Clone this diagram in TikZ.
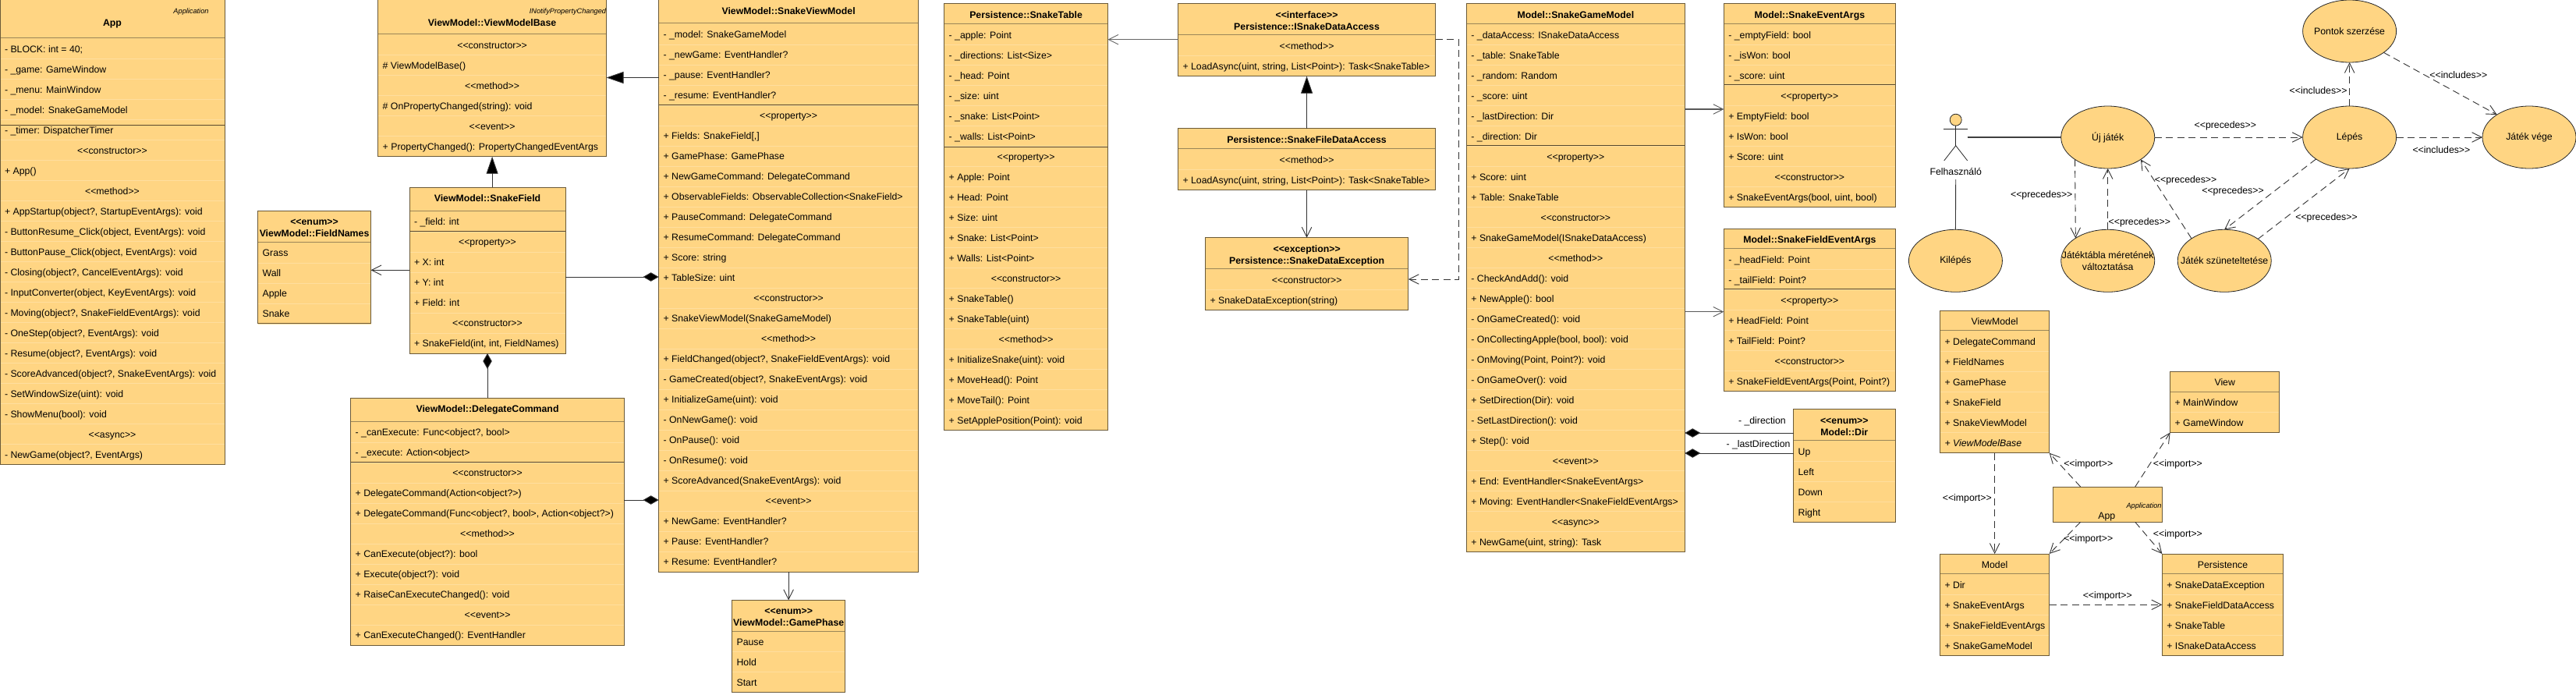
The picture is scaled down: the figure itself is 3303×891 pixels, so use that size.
\documentclass[tikz,border=0pt]{standalone}
\usepackage{fontspec}
\setmainfont{Liberation Sans}
\usetikzlibrary{arrows.meta,calc,shapes.geometric}
\definecolor{umlfill}{HTML}{FFD583}
\definecolor{rowline}{HTML}{FFDE9E}
\definecolor{edgecol}{HTML}{6B5A38}
\definecolor{headcol}{HTML}{9A8658}
\definecolor{sectcol}{HTML}{57482C}
\definecolor{conncol}{HTML}{333333}
\newcommand\mainf{\fontsize{12.3}{15}\selectfont}
\newcommand\smallf{\fontsize{9.2}{11}\selectfont\itshape}
\newcommand\st[1]{<\kern0pt<#1>\kern0pt>}
\newcounter{txtc}
\newcommand\puttext[4]{\stepcounter{txtc}\node[lbl,#1] (t\the\value{txtc}) at (#2,#3) {#4};}
\newcommand\ubox[5]{\node[umlbody,minimum width=#4pt,minimum height=#5pt] (#1) at (#2,#3) {};\xdef\bn{#1}\xdef\bx{#2}\xdef\bw{#4}}
\newcommand\hd[2]{\pgfmathsetmacro\hx{\bx+\bw/2}\pgfmathsetmacro\hy{#1+4.6}\puttext{anchor=base,font=\mainf\bfseries}{\hx}{\hy}{#2}}
\newcommand\plainhd[2]{\pgfmathsetmacro\hx{\bx+\bw/2}\pgfmathsetmacro\hy{#1+4.6}\puttext{anchor=base}{\hx}{\hy}{#2}}
\newcommand\hdline[1]{\draw[hline] (\bn.west |- 0,#1) -- (\bn.east |- 0,#1);}
\newcommand\sctline[1]{\draw[sline] (\bn.west |- 0,#1) -- (\bn.east |- 0,#1);}
\newcommand\startrows[1]{\xdef\cy{#1}}
\newcommand\rowsep{\pgfmathsetmacro\ly{\cy+13}\draw[rline] (\bn.west |- 0,\ly) -- (\bn.east |- 0,\ly);\pgfmathsetmacro\ny{\cy+26}\xdef\cy{\ny}}
\newcommand\rowL[1]{\pgfmathsetmacro\hx{\bx+6}\pgfmathsetmacro\hy{\cy+4.6}\puttext{anchor=base west}{\hx}{\hy}{#1}\rowsep}
\newcommand\rowC[1]{\pgfmathsetmacro\hx{\bx+\bw/2}\pgfmathsetmacro\hy{\cy+4.6}\puttext{anchor=base}{\hx}{\hy}{#1}\rowsep}
\newcommand\closebox{\draw[bline] (\bn.north west) rectangle (\bn.south east);}
\begin{document}
\begin{tikzpicture}[x=1pt,y=-1pt,
  umlbody/.style={fill=umlfill,draw=none,inner sep=0pt,outer sep=0pt,anchor=north west},
  lbl/.style={inner sep=0pt,outer sep=0pt,font=\mainf,text=black},
  stereo/.style={inner sep=0pt,outer sep=0pt,font=\smallf,text=black},
  hline/.style={draw=headcol,line width=1pt},
  sline/.style={draw=sectcol,line width=1pt},
  rline/.style={draw=rowline,line width=0.7pt},
  bline/.style={draw=edgecol,line width=1pt},
  uc/.style={ellipse,draw=black!85,line width=0.8pt,fill=umlfill,minimum width=120pt,minimum height=80pt,inner sep=0pt,outer sep=0pt},
  uctext/.style={lbl,align=center},
  conn/.style={draw=conncol,line width=0.9pt},
  openend/.style={conn,-{Straight Barb[length=12.5pt,width=12.5pt,line width=0.9pt]}},
  dep/.style={openend,dash pattern=on 9pt off 5.5pt},
  inherit/.style={conn,-{Triangle[length=22pt,width=15pt,fill=black]}},
  compos/.style={conn,{Diamond[length=20pt,width=11.5pt,fill=black]}-},
  actorline/.style={draw=black!85,line width=0.8pt}
]
\useasboundingbox (0,0) rectangle (3303,891);
\fill[white] (0,0) rectangle (3303,891);

% App
\ubox{app}{0}{0}{288}{595.7}
\startrows{62.7}
\rowL{- BLOCK: int = 40;}
\rowL{- \_game: GameWindow}
\rowL{- \_menu: MainWindow}
\rowL{- \_model: SnakeGameModel}
\rowL{- \_timer: DispatcherTimer}
\rowC{\st{constructor}}
\rowL{+ App()}
\rowC{\st{method}}
\rowL{+ AppStartup(object?, StartupEventArgs): void}
\rowL{- ButtonResume\_Click(object, EventArgs): void}
\rowL{- ButtonPause\_Click(object, EventArgs): void}
\rowL{- Closing(object?, CancelEventArgs): void}
\rowL{- InputConverter(object, KeyEventArgs): void}
\rowL{- Moving(object?, SnakeFieldEventArgs): void}
\rowL{- OneStep(object?, EventArgs): void}
\rowL{- Resume(object?, EventArgs): void}
\rowL{- ScoreAdvanced(object?, SnakeEventArgs): void}
\rowL{- SetWindowSize(uint): void}
\rowL{- ShowMenu(bool): void}
\rowC{\st{async}}
\rowL{- NewGame(object?, EventArgs)}
\hd{29}{App}
\puttext{stereo,anchor=base}{245}{18}{Application}
\hdline{49}\sctline{160.7}\closebox

% ViewModelBase
\ubox{vmb}{484.7}{0}{292.8}{200.7}
\startrows{57.7}
\rowC{\st{constructor}}
\rowL{\# ViewModelBase()}
\rowC{\st{method}}
\rowL{\# OnPropertyChanged(string): void}
\rowC{\st{event}}
\rowL{+ PropertyChanged(): PropertyChangedEventArgs}
\hd{29}{ViewModel::ViewModelBase}
\puttext{stereo,anchor=base east}{777}{18}{INotifyPropertyChanged}
\hdline{44}\closebox

% SnakeField
\ubox{field}{525}{240}{200}{213}
\startrows{284}
\rowL{- \_field: int}
\rowC{\st{property}}
\rowL{+ X: int}
\rowL{+ Y: int}
\rowL{+ Field: int}
\rowC{\st{constructor}}
\rowL{+ SnakeField(int, int, FieldNames)}
\hd{254}{ViewModel::SnakeField}
\hdline{270}\sctline{296}\closebox

% FieldNames
\ubox{fnames}{330.6}{270}{144.9}{144.7}
\startrows{324}
\rowL{Grass}
\rowL{Wall}
\rowL{Apple}
\rowL{Snake}
\hd{284}{\st{enum}}
\hd{298.7}{ViewModel::FieldNames}
\hdline{310}\closebox

% DelegateCommand
\ubox{dcmd}{449.7}{510}{350.7}{317}
\startrows{554}
\rowL{- \_canExecute: Func<object?, bool>}
\rowL{- \_execute: Action<object>}
\rowC{\st{constructor}}
\rowL{+ DelegateCommand(Action<object?>)}
\rowL{+ DelegateCommand(Func<object?, bool>, Action<object?>)}
\rowC{\st{method}}
\rowL{+ CanExecute(object?): bool}
\rowL{+ Execute(object?): void}
\rowL{+ RaiseCanExecuteChanged(): void}
\rowC{\st{event}}
\rowL{+ CanExecuteChanged(): EventHandler}
\hd{524}{ViewModel::DelegateCommand}
\hdline{540}\sctline{592}\closebox

% GamePhase
\ubox{phase}{938.6}{769.3}{145.2}{118}
\startrows{822.7}
\rowL{Pause}
\rowL{Hold}
\rowL{Start}
\hd{782.7}{\st{enum}}
\hd{798}{ViewModel::GamePhase}
\hdline{809.3}\closebox

% SnakeViewModel
\ubox{svm}{844.6}{0}{333}{733}
\startrows{44}
\rowL{- \_model: SnakeGameModel}
\rowL{- \_newGame: EventHandler?}
\rowL{- \_pause: EventHandler?}
\rowL{- \_resume: EventHandler?}
\rowC{\st{property}}
\rowL{+ Fields: SnakeField[,]}
\rowL{+ GamePhase: GamePhase}
\rowL{+ NewGameCommand: DelegateCommand}
\rowL{+ ObservableFields: ObservableCollection<SnakeField>}
\rowL{+ PauseCommand: DelegateCommand}
\rowL{+ ResumeCommand: DelegateCommand}
\rowL{+ Score: string}
\rowL{+ TableSize: uint}
\rowC{\st{constructor}}
\rowL{+ SnakeViewModel(SnakeGameModel)}
\rowC{\st{method}}
\rowL{+ FieldChanged(object?, SnakeFieldEventArgs): void}
\rowL{- GameCreated(object?, SnakeEventArgs): void}
\rowL{+ InitializeGame(uint): void}
\rowL{- OnNewGame(): void}
\rowL{- OnPause(): void}
\rowL{- OnResume(): void}
\rowL{+ ScoreAdvanced(SnakeEventArgs): void}
\rowC{\st{event}}
\rowL{+ NewGame: EventHandler?}
\rowL{+ Pause: EventHandler?}
\rowL{+ Resume: EventHandler?}
\hd{14}{ViewModel::SnakeViewModel}
\hdline{30}\sctline{134.3}\closebox

% SnakeTable
\ubox{table}{1210.7}{4.7}{209.8}{547}
\startrows{44.7}
\rowL{- \_apple: Point}
\rowL{- \_directions: List<Size>}
\rowL{- \_head: Point}
\rowL{- \_size: uint}
\rowL{- \_snake: List<Point>}
\rowL{- \_walls: List<Point>}
\rowC{\st{property}}
\rowL{+ Apple: Point}
\rowL{+ Head: Point}
\rowL{+ Size: uint}
\rowL{+ Snake: List<Point>}
\rowL{+ Walls: List<Point>}
\rowC{\st{constructor}}
\rowL{+ SnakeTable()}
\rowL{+ SnakeTable(uint)}
\rowC{\st{method}}
\rowL{+ InitializeSnake(uint): void}
\rowL{+ MoveHead(): Point}
\rowL{+ MoveTail(): Point}
\rowL{+ SetApplePosition(Point): void}
\hd{18.7}{Persistence::SnakeTable}
\hdline{30.3}\sctline{188.3}\closebox

% ISnakeDataAccess
\ubox{ida}{1510.5}{4.7}{330.1}{93}
\startrows{58.7}
\rowC{\st{method}}
\rowL{+ LoadAsync(uint, string, List<Point>): Task<SnakeTable>}
\hd{19}{\st{interface}}
\hd{33.7}{Persistence::ISnakeDataAccess}
\hdline{44.3}\closebox

% SnakeFileDataAccess
\ubox{sfda}{1510.5}{164.7}{330.1}{79}
\startrows{204.7}
\rowC{\st{method}}
\rowL{+ LoadAsync(uint, string, List<Point>): Task<SnakeTable>}
\hd{178.7}{Persistence::SnakeFileDataAccess}
\hdline{190.7}\closebox

% SnakeDataException
\ubox{sde}{1545.5}{304.7}{260.3}{93}
\startrows{358.7}
\rowC{\st{constructor}}
\rowL{+ SnakeDataException(string)}
\hd{318.7}{\st{exception}}
\hd{333.7}{Persistence::SnakeDataException}
\hdline{344.3}\closebox

% SnakeGameModel
\ubox{sgm}{1880.4}{4.7}{279.9}{703}
\startrows{44.7}
\rowL{- \_dataAccess: ISnakeDataAccess}
\rowL{- \_table: SnakeTable}
\rowL{- \_random: Random}
\rowL{- \_score: uint}
\rowL{- \_lastDirection: Dir}
\rowL{- \_direction: Dir}
\rowC{\st{property}}
\rowL{+ Score: uint}
\rowL{+ Table: SnakeTable}
\rowC{\st{constructor}}
\rowL{+ SnakeGameModel(ISnakeDataAccess)}
\rowC{\st{method}}
\rowL{- CheckAndAdd(): void}
\rowL{+ NewApple(): bool}
\rowL{- OnGameCreated(): void}
\rowL{- OnCollectingApple(bool, bool): void}
\rowL{- OnMoving(Point, Point?): void}
\rowL{- OnGameOver(): void}
\rowL{+ SetDirection(Dir): void}
\rowL{- SetLastDirection(): void}
\rowL{+ Step(): void}
\rowC{\st{event}}
\rowL{+ End: EventHandler<SnakeEventArgs>}
\rowL{+ Moving: EventHandler<SnakeFieldEventArgs>}
\rowC{\st{async}}
\rowL{+ NewGame(uint, string): Task}
\hd{18.7}{Model::SnakeGameModel}
\hdline{30.3}\sctline{186.7}\closebox

% SnakeEventArgs
\ubox{sea}{2210.3}{4.7}{220.1}{261}
\startrows{44.7}
\rowL{- \_emptyField: bool}
\rowL{- \_isWon: bool}
\rowL{- \_score: uint}
\rowC{\st{property}}
\rowL{+ EmptyField: bool}
\rowL{+ IsWon: bool}
\rowL{+ Score: uint}
\rowC{\st{constructor}}
\rowL{+ SnakeEventArgs(bool, uint, bool)}
\hd{18.7}{Model::SnakeEventArgs}
\hdline{30.3}\sctline{108.7}\closebox

% SnakeFieldEventArgs
\ubox{sfea}{2210.3}{293}{220.1}{208.7}
\startrows{332.7}
\rowL{- \_headField: Point}
\rowL{- \_tailField: Point?}
\rowC{\st{property}}
\rowL{+ HeadField: Point}
\rowL{+ TailField: Point?}
\rowC{\st{constructor}}
\rowL{+ SnakeFieldEventArgs(Point, Point?)}
\hd{306.7}{Model::SnakeFieldEventArgs}
\hdline{318.3}\sctline{370.7}\closebox

% Dir
\ubox{dir}{2299.6}{524.7}{130.4}{145}
\startrows{578.7}
\rowL{Up}
\rowL{Left}
\rowL{Down}
\rowL{Right}
\hd{538.7}{\st{enum}}
\hd{553.7}{Model::Dir}
\hdline{564.3}\closebox

% Package boxes
\ubox{pvm}{2487.5}{398}{140.2}{182.7}
\startrows{437.7}
\rowL{+ DelegateCommand}
\rowL{+ FieldNames}
\rowL{+ GamePhase}
\rowL{+ SnakeField}
\rowL{+ SnakeViewModel}
\rowL{\itshape + ViewModelBase}
\plainhd{411.7}{ViewModel}
\hdline{423.7}\closebox

\ubox{pview}{2782.6}{476}{140.2}{78.5}
\startrows{515.7}
\rowL{+ MainWindow}
\rowL{+ GameWindow}
\plainhd{489.7}{View}
\hdline{502}\closebox

\ubox{papp}{2632.6}{624}{140.2}{45.3}
\puttext{anchor=base}{2701.3}{665.6}{App}
\puttext{stereo,anchor=base east}{2771.5}{651}{Application}
\closebox

\ubox{pmodel}{2487.5}{710}{140.2}{130.5}
\startrows{749.7}
\rowL{+ Dir}
\rowL{+ SnakeEventArgs}
\rowL{+ SnakeFieldEventArgs}
\rowL{+ SnakeGameModel}
\plainhd{723.7}{Model}
\hdline{735.7}\closebox

\ubox{ppers}{2772.3}{710}{155.4}{130.5}
\startrows{749.7}
\rowL{+ SnakeDataException}
\rowL{+ SnakeFieldDataAccess}
\rowL{+ SnakeTable}
\rowL{+ ISnakeDataAccess}
\plainhd{723.7}{Persistence}
\hdline{735.7}\closebox

% Use case ellipses (text in separate nodes so that it may overflow the ellipse)
\node[uc] (uj) at (2702.7,176) {};
\node[uc] (lepes) at (3012.6,176) {};
\node[uc] (vege) at (3243,176) {};
\node[uc] (pontok) at (3012.6,40) {};
\node[uc] (kilep) at (2507.4,334.3) {};
\node[uc] (tabla) at (2702.7,334.3) {};
\node[uc] (szun) at (2852.2,334.3) {};
\node[uctext] (ujT) at (uj) {Új játék};
\node[uctext] (lepesT) at (lepes) {Lépés};
\node[uctext] (vegeT) at (vege) {Játék vége};
\node[uctext] (pontokT) at (pontok) {Pontok szerzése};
\node[uctext] (kilepT) at (kilep) {Kilépés};
\node[uctext] (tablaT) at (tabla) {Játéktábla méretének\\változtatása};
\node[uctext] (szunT) at (szun) {Játék szüneteltetése};

% Actor
\node[circle,fill=umlfill,draw=black!85,line width=0.8pt,minimum size=15pt,inner sep=0pt,outer sep=0pt] (ahead) at (2507.7,153.7) {};
\coordinate (ahip) at (2507.7,186.7);
\coordinate (aarmL) at (2492,165.7);
\coordinate (aarmR) at (2522.7,165.7);
\coordinate (alegL) at (2492.7,206);
\coordinate (alegR) at (2522.7,206);
\coordinate (ahand) at (2522.7,176);
\coordinate (alabelfoot) at (2507.7,230);
\draw[actorline] (ahead.south) -- (ahip);
\draw[actorline] (aarmL) -- (aarmR);
\draw[actorline] (alegL) -- (ahip) -- (alegR);
\node[lbl,anchor=base] (alabel) at (2507.7,224.3) {Felhasználó};
\draw[conn,draw=black!75,line width=1.2pt] (ahand) -- (uj.west);
\draw[conn] (alabelfoot) -- (kilep.north);

% Use case connectors
\draw[dep] (uj.east) -- (lepes.west);
\draw[dep] (lepes.east) -- (vege.west);
\draw[dep] (lepes.north) -- (pontok.south);
\draw[dep] (pontok.-32.7) -- (vege.145.9);
\draw[dep] (uj.214.7) -- (tabla.145.7);
\draw[dep] (tabla.north) -- (uj.south);
\draw[dep] (szun.146.8) -- (uj.-34);
\draw[dep] (lepes.213.6) -- (szun.north);
\draw[dep] (szun.33.5) -- (lepes.south);
\node[lbl] (l1) at (2853.3,161.7) {\st{precedes}};
\node[lbl] (l2) at (3130.4,191.7) {\st{includes}};
\node[lbl] (l3) at (2972.6,115.7) {\st{includes}};
\node[lbl] (l4) at (3152.3,95.7) {\st{includes}};
\node[lbl] (l5) at (2617.7,250) {\st{precedes}};
\node[lbl] (l6) at (2743.3,285.7) {\st{precedes}};
\node[lbl] (l7) at (2802.6,231.7) {\st{precedes}};
\node[lbl] (l8) at (2863,245.7) {\st{precedes}};
\node[lbl] (l9) at (2983,279.3) {\st{precedes}};

% Package connectors
\draw[dep] ($(papp.north west)!0.25!(papp.north east)$) -- (pvm.south east);
\draw[dep] ($(papp.north west)!0.75!(papp.north east)$) -- (pview.south west);
\draw[dep] ($(papp.south west)!0.25!(papp.south east)$) -- (pmodel.north east);
\draw[dep] ($(papp.south west)!0.75!(papp.south east)$) -- (ppers.north west);
\draw[dep] (pvm.south) -- (pmodel.north);
\draw[dep] (pmodel.east |- 0,775.3) -- (ppers.west |- 0,775.3);
\node[lbl] (p1) at (2677.7,595.7) {\st{import}};
\node[lbl] (p2) at (2792.4,595.7) {\st{import}};
\node[lbl] (p3) at (2522.3,639.7) {\st{import}};
\node[lbl] (p4) at (2677.7,691.7) {\st{import}};
\node[lbl] (p5) at (2792.4,685.7) {\st{import}};
\node[lbl] (p6) at (2702.2,764.7) {\st{import}};

% Class connectors
\draw[inherit] (vmb.south |- field.north) -- (vmb.south);
\draw[inherit] (svm.west |- 0,99.5) -- (vmb.east |- 0,99.5);
\draw[openend] (field.west |- 0,346.3) -- (fnames.east |- 0,346.3);
\draw[compos] (svm.west |- 0,355) -- (field.east |- 0,355);
\draw[compos] (field.south) -- (field.south |- dcmd.north);
\draw[compos] (svm.west |- 0,641) -- (dcmd.east |- 0,641);
\draw[openend] (svm.south) -- (svm.south |- phase.north);
\draw[openend,line width=1.3pt,draw=black!60] (ida.west |- 0,50.7) -- (table.east |- 0,50.7);
\draw[inherit] (sfda.north) -- (ida.south);
\draw[openend] (sfda.south) -- (sfda.south |- sde.north);
\coordinate (depA) at (1870.5,50.7);
\coordinate (depB) at (1870.5,358);
\draw[dep] (ida.east |- depA) -- (depA) -- (depB) -- (sde.east |- depB);
\draw[openend,line width=1.3pt,draw=black!65] (sgm.east |- 0,140) -- (sea.west |- 0,140);
\draw[openend,line width=1.3pt,draw=black!65] (sgm.east |- 0,399.7) -- (sfea.west |- 0,399.7);
\draw[compos] (sgm.east |- 0,555) -- (dir.west |- 0,555);
\draw[compos] (sgm.east |- 0,581) -- (dir.west |- 0,581);
\node[lbl] (d1) at (2259.4,540.7) {- \_direction};
\node[lbl] (d2) at (2254.5,570.7) {- \_lastDirection};
\end{tikzpicture}
\end{document}
